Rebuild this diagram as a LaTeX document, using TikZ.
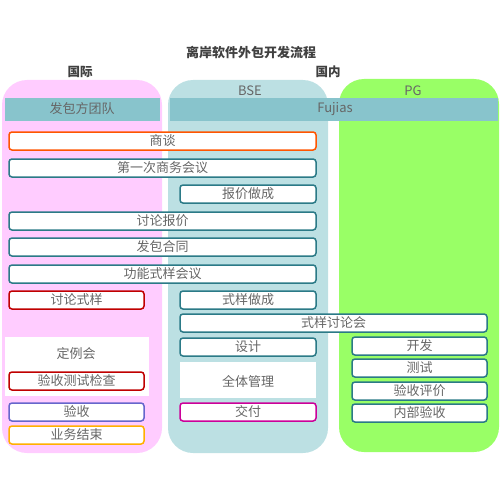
\documentclass[tikz,border=0pt]{standalone}
\usepackage{fontspec}
\setmainfont{Noto Sans CJK SC}
\definecolor{pinkc}{HTML}{FFCCFF}
\definecolor{tealc}{HTML}{BCE0E3}
\definecolor{greenc}{HTML}{99FF66}
\definecolor{bandc}{HTML}{88C4CC}
\definecolor{bordc}{HTML}{2B7A87}
\definecolor{txtc}{HTML}{666666}
\definecolor{orangec}{HTML}{FF5500}
\definecolor{redc}{HTML}{C00000}
\definecolor{bluec}{HTML}{6666CC}
\definecolor{goldc}{HTML}{FFB000}
\definecolor{magc}{HTML}{CC0099}
\tikzset{
  box/.style={draw=bordc, line width=1.5pt, rounded corners=3pt, fill=white, text=txtc,
    minimum height=18pt, inner sep=0pt, font=\fontsize{13}{13}\selectfont},
  lbl/.style={text=txtc, inner sep=0pt, font=\fontsize{13}{13}\selectfont},
  hdr/.style={text=black!75, inner sep=0pt, font=\bfseries\fontsize{12.5}{12.5}\selectfont}
}
\begin{document}
\begin{tikzpicture}[x=1pt,y=-1pt]
\useasboundingbox (0,0) rectangle (500,500);
% panels
\fill[pinkc, rounded corners=25pt] (2,80) rectangle (162,453);
\fill[tealc, rounded corners=25pt] (168,80) rectangle (328,453);
\fill[greenc, rounded corners=25pt] (339,79) rectangle (499,452);
% bands
\fill[bandc] (5,98) rectangle (160,121);
\fill[bandc] (170,98) rectangle (498,121);
% white areas
\fill[white] (5,337) rectangle (149,396);
\fill[white] (180,362) rectangle (316,398);
% headers
\node[hdr, font=\bfseries\fontsize{13}{13}\selectfont] (title) at (251,53) {离岸软件外包开发流程};
\node[hdr] (intl) at (80,72) {国际};
\node[hdr] (dom) at (328,72) {国内};
\node[lbl] (bse) at (250,91) {BSE};
\node[lbl] (pg) at (413,91) {PG};
\node[lbl] (team) at (82,109) {发包方团队};
\node[lbl] (fujias) at (335,109) {Fujias};
\node[lbl] (dingli) at (76,354) {定例会};
\node[lbl] (quanti) at (248,381) {全体管理};
% boxes
\node[box, draw=orangec, minimum width=307pt] (shangtan) at (162.5,141) {商谈};
\node[box, minimum width=307pt] (diyici) at (162.5,168) {第一次商务会议};
\node[box, minimum width=136pt] (baojia) at (248,194) {报价做成};
\node[box, minimum width=307pt] (tlbj) at (162.5,221) {讨论报价};
\node[box, minimum width=307pt] (fabao) at (162.5,247) {发包合同};
\node[box, minimum width=307pt] (gongneng) at (162.5,274) {功能式样会议};
\node[box, draw=redc, minimum width=135pt] (tlsy) at (76.5,300) {讨论式样};
\node[box, minimum width=136pt] (syzc) at (248,300) {式样做成};
\node[box, minimum width=307pt] (sytlh) at (333.5,323) {式样讨论会};
\node[box, minimum width=136pt] (sheji) at (248,347) {设计};
\node[box, minimum width=135pt] (kaifa) at (419.5,346) {开发};
\node[box, minimum width=135pt] (ceshi) at (419.5,368) {测试};
\node[box, minimum width=135pt] (yspj) at (419.5,391) {验收评价};
\node[box, minimum width=135pt] (neibu) at (419.5,413) {内部验收};
\node[box, draw=redc, minimum width=135pt] (yscs) at (76.5,381) {验收测试检查};
\node[box, draw=bluec, minimum width=135pt] (yanshou) at (76.5,412) {验收};
\node[box, draw=goldc, minimum width=135pt] (yewu) at (76.5,435) {业务结束};
\node[box, draw=magc, minimum width=136pt] (jiaofu) at (248,412) {交付};
\end{tikzpicture}
\end{document}
